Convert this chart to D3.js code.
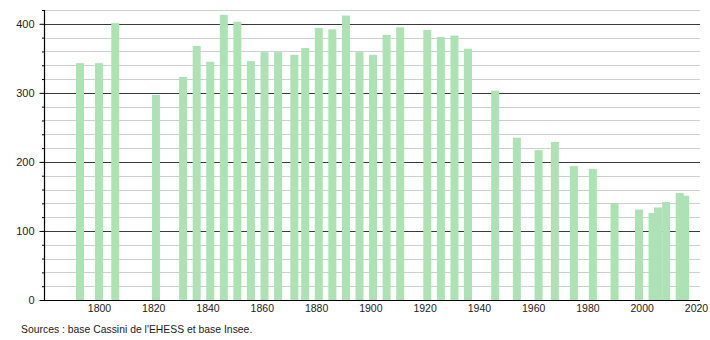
<!DOCTYPE html>
<html>
<head>
<meta charset="utf-8">
<script src="https://cdn.jsdelivr.net/npm/d3@7"></script>
<style>
  html, body { margin: 0; padding: 0; background: #fff; }
  svg { display: block; }
  text { font-family: "Liberation Sans", Arial, sans-serif; fill: #222; }
</style>
</head>
<body>
<svg id="chart" width="710" height="340"></svg>
<script>
const years = [1793,1800,1806,1821,1831,1836,1841,1846,1851,1856,1861,1866,1872,1876,1881,1886,1891,1896,1901,1906,1911,1921,1926,1931,1936,1946,1954,1962,1968,1975,1982,1990,1999,2004,2006,2009,2014,2016];
const population = [343,343,401,297,323,368,345,413,403,346,359,359,355,365,394,392,412,359,355,384,395,391,381,383,364,303,235,217,229,194,190,140,131,126,134,142,155,151];
const xTickLabels = [1800,1820,1840,1860,1880,1900,1920,1940,1960,1980,2000,2020];
const yTickLabels = [0,100,200,300,400];
const sourceText = "Sources : base Cassini de l'EHESS et base Insee.";

const svg = d3.select("#chart");
const x = d3.scaleLinear().domain([1780, 2022]).range([44.7, 701.4]);
const y = d3.scaleLinear().domain([0, 420]).range([300, 10]);
const left = 44, right = 700;

// minor gridlines every 20
const minor = d3.range(20, 421, 20).filter(v => v % 100 !== 0);
svg.append("g").selectAll("line").data(minor).join("line")
  .attr("x1", left).attr("x2", right)
  .attr("y1", d => Math.round(y(d)) + 0.5).attr("y2", d => Math.round(y(d)) + 0.5)
  .attr("stroke", "#cfcfcf").attr("stroke-width", 1);
// major gridlines
svg.append("g").selectAll("line").data(yTickLabels.filter(v => v > 0)).join("line")
  .attr("x1", left).attr("x2", right)
  .attr("y1", d => Math.round(y(d)) + 0.5).attr("y2", d => Math.round(y(d)) + 0.5)
  .attr("stroke", "#3a3a3a").attr("stroke-width", 1);

// bars
const barW = 8;
svg.append("g").selectAll("rect").data(years.map((yr, i) => ({yr, v: population[i]}))).join("rect")
  .attr("x", d => x(d.yr) - barW / 2)
  .attr("y", d => y(d.v))
  .attr("width", barW)
  .attr("height", d => y(0) - y(d.v))
  .attr("fill", "#ade3b4");

// y axis
const yAxis = d3.axisLeft(y).tickValues(yTickLabels).tickSize(5).tickPadding(5).tickFormat(d3.format("d"));
const gy = svg.append("g").attr("transform", `translate(${left + 0.5},0)`).call(yAxis);
gy.select(".domain").remove();
gy.selectAll(".tick line").attr("stroke", "#000");
gy.selectAll("text").style("font-size", "11px").attr("fill", "#222");
// minor y ticks
const yMinor = d3.axisLeft(y).tickValues(minor).tickSize(2.5).tickFormat("");
const gym = svg.append("g").attr("transform", `translate(${left + 0.5},0)`).call(yMinor);
gym.select(".domain").remove();
gym.selectAll(".tick line").attr("stroke", "#000");
svg.append("line").attr("x1", left + 0.5).attr("x2", left + 0.5)
  .attr("y1", y(420)).attr("y2", y(0) + 0.5).attr("stroke", "#000").attr("stroke-width", 1.2);

// x axis
const xAxis = d3.axisBottom(x).tickValues(xTickLabels).tickSize(0).tickPadding(4).tickFormat(d3.format("d"));
const gx = svg.append("g").attr("transform", `translate(0,${Math.round(y(0)) + 0.5})`).call(xAxis);
gx.select(".domain").remove();
gx.selectAll("text").style("font-size", "10.5px").attr("fill", "#222");
svg.append("line").attr("x1", 40).attr("x2", right)
  .attr("y1", Math.round(y(0)) + 0.5).attr("y2", Math.round(y(0)) + 0.5)
  .attr("stroke", "#000").attr("stroke-width", 1.2);

// source
svg.append("text").attr("x", 21).attr("y", 333).style("font-size", "10.4px").text(sourceText);
</script>
</body>
</html>
